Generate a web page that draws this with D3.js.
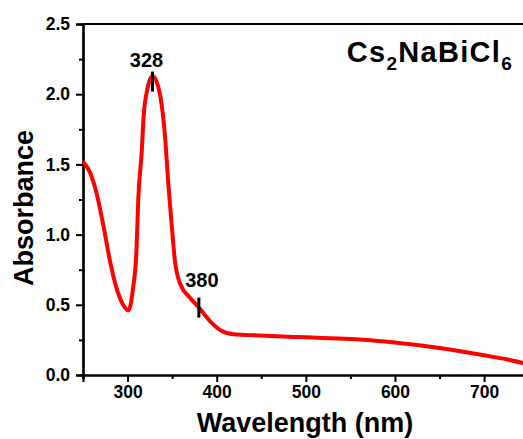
<!DOCTYPE html>
<html lang="en">
<head>
    <meta charset="UTF-8">
    <title>Cs2NaBiCl6 absorbance</title>
    <script src="https://cdn.jsdelivr.net/npm/d3@7"></script>
    <style>
        body { margin: 0; background: #fff; }
        svg text { font-family: "Liberation Sans", Arial, sans-serif; font-weight: bold; fill: #000; }
    </style>
</head>
<body>
    <script>
        // UV-vis spectrum, read point by point
        var wavelength = [250, 258, 265, 273, 280, 288, 295, 301, 306, 310, 312, 316, 318, 322, 328, 336, 342, 346, 350, 353, 359, 370, 380, 393, 404, 419, 438, 500, 550, 575, 600, 625, 650, 675, 700, 725, 747];
        var absorbance = [1.52, 1.44, 1.30, 1.06, 0.82, 0.61, 0.50, 0.46, 0.61, 0.89, 1.25, 1.60, 1.84, 2.03, 2.13, 2.01, 1.70, 1.34, 1.03, 0.82, 0.65, 0.55, 0.48, 0.38, 0.32, 0.29, 0.284, 0.268, 0.256, 0.246, 0.232, 0.213, 0.192, 0.168, 0.14, 0.112, 0.08];

        var xMajor = [300, 400, 500, 600, 700];
        var xMinor = [250, 350, 450, 550, 650];
        var yMajor = [0.0, 0.5, 1.0, 1.5, 2.0, 2.5];
        var yMinor = [0.25, 0.75, 1.25, 1.75, 2.25];

        // marked peaks: wavelength and the absorbance at that point
        var peakNm = [328, 380];
        var peakAbs = [2.09, 0.48];

        var width = 523, height = 439;
        var margin = {left: 83, top: 24, bottom: 64};

        var svg = d3.select("body").append("svg")
            .attr("width", width)
            .attr("height", height);

        var x = d3.scaleLinear().domain([250, 747]).range([margin.left, 526]);
        var y = d3.scaleLinear().domain([0, 2.5]).range([height - margin.bottom, margin.top]);

        var fmt = d3.format(".1f");

        // x axis
        svg.append("g")
            .attr("transform", "translate(0," + y(0) + ")")
            .call(d3.axisBottom(x).tickValues(xMajor).tickSize(7).tickPadding(4).tickFormat(d3.format("d")));
        svg.append("g")
            .attr("transform", "translate(0," + y(0) + ")")
            .call(d3.axisBottom(x).tickValues(xMinor).tickSize(4).tickFormat(""));

        // y axis
        svg.append("g")
            .attr("transform", "translate(" + x(250) + ",0)")
            .call(d3.axisLeft(y).tickValues(yMajor).tickSize(7).tickPadding(6).tickFormat(fmt));
        svg.append("g")
            .attr("transform", "translate(" + x(250) + ",0)")
            .call(d3.axisLeft(y).tickValues(yMinor).tickSize(4).tickFormat(""));

        svg.selectAll(".domain").attr("stroke", "#000").attr("stroke-width", 2.2);
        svg.selectAll(".tick line").attr("stroke", "#000").attr("stroke-width", 2);
        svg.selectAll(".tick text").style("font-size", "17.5px").attr("fill", "#000");

        // top frame line
        svg.append("line")
            .attr("x1", x(250)).attr("x2", width)
            .attr("y1", y(2.5)).attr("y2", y(2.5))
            .attr("stroke", "#000").attr("stroke-width", 2.2);

        // spectrum
        var line = d3.line()
            .x(function (d, i) { return x(wavelength[i]); })
            .y(function (d) { return y(d); })
            .curve(d3.curveMonotoneX);

        svg.append("path")
            .datum(absorbance)
            .attr("fill", "none")
            .attr("stroke", "#ff0000")
            .attr("stroke-width", 4)
            .attr("stroke-linejoin", "round")
            .attr("d", line);

        // peak markers and labels
        var labelDx = [-6, 3], labelDy = [-15, -21];
        peakNm.forEach(function (nm, i) {
            svg.append("line")
                .attr("x1", x(nm)).attr("x2", x(nm))
                .attr("y1", y(peakAbs[i]) - 10).attr("y2", y(peakAbs[i]) + 10)
                .attr("stroke", "#000").attr("stroke-width", 3);
            svg.append("text")
                .attr("x", x(nm) + labelDx[i])
                .attr("y", y(peakAbs[i]) + labelDy[i])
                .attr("text-anchor", "middle")
                .style("font-size", "20px")
                .text(nm);
        });

        // compound name
        var title = svg.append("text")
            .attr("x", 513)
            .attr("y", 62)
            .attr("text-anchor", "end")
            .style("font-size", "29px")
            .style("letter-spacing", "1.3px");
        title.append("tspan").text("Cs");
        title.append("tspan").attr("dy", 8).style("font-size", "19px").text("2");
        title.append("tspan").attr("dy", -8).text("NaBiCl");
        title.append("tspan").attr("dy", 8).style("font-size", "19px").text("6");

        // axis titles
        svg.append("text")
            .attr("x", 305)
            .attr("y", 432)
            .attr("text-anchor", "middle")
            .style("font-size", "27px")
            .text("Wavelength (nm)");

        svg.append("text")
            .attr("transform", "translate(33,208) rotate(-90)")
            .attr("text-anchor", "middle")
            .style("font-size", "27px")
            .text("Absorbance");
    </script>
</body>
</html>
